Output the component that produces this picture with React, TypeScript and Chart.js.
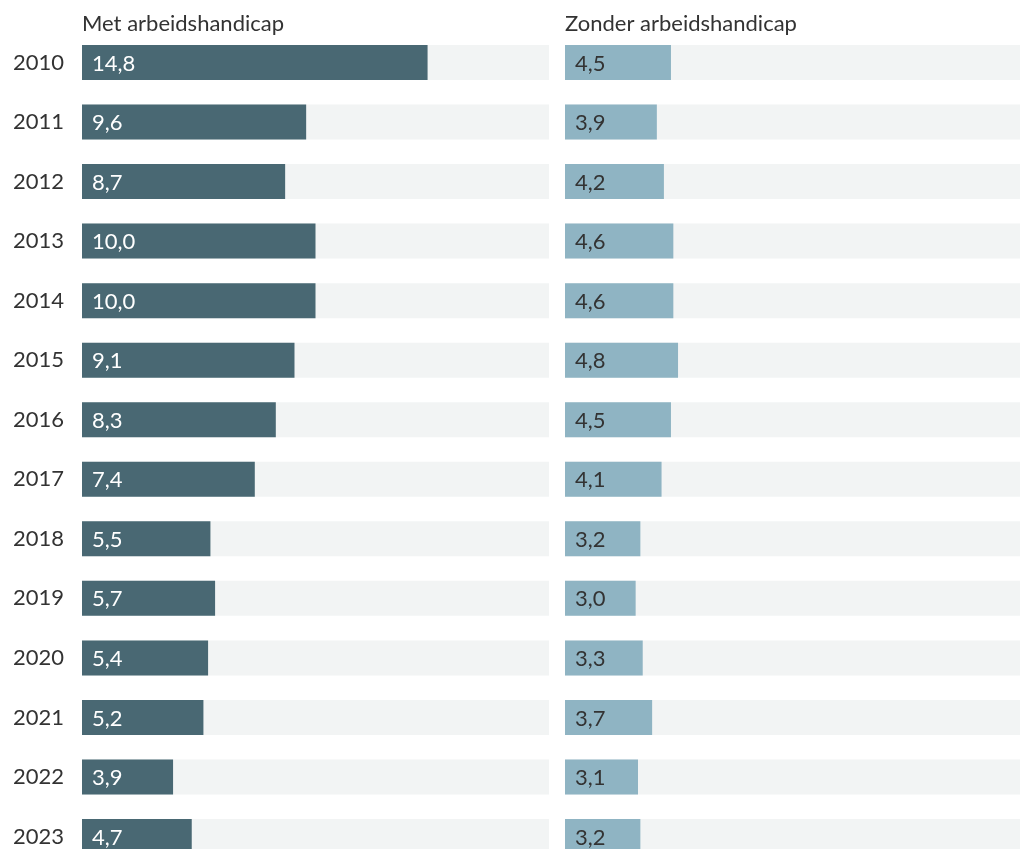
import React, { useEffect, useRef } from "react";
import { Chart, registerables } from "chart.js";

Chart.register(...registerables);

const years = ["2010", "2011", "2012", "2013", "2014", "2015", "2016", "2017", "2018", "2019", "2020", "2021", "2022", "2023"];
const metArbeidshandicap = [14.8, 9.6, 8.7, 10.0, 10.0, 9.1, 8.3, 7.4, 5.5, 5.7, 5.4, 5.2, 3.9, 4.7];
const zonderArbeidshandicap = [4.5, 3.9, 4.2, 4.6, 4.6, 4.8, 4.5, 4.1, 3.2, 3.0, 3.3, 3.7, 3.1, 3.2];
const titles = ["Met arbeidshandicap", "Zonder arbeidshandicap"];
const axisMax = 20;

const FONT = "Lato, 'Open Sans', sans-serif";
const FONT_SIZE = 22;
const TEXT = "#333333";

function fmt(v: number) {
  return v.toFixed(1).replace(".", ",");
}

function makeChart(
  canvas: HTMLCanvasElement,
  values: number[],
  title: string,
  barColor: string,
  labelColor: string,
  showYears: boolean
) {
  const overlay = {
    id: "overlay",
    afterDatasetsDraw(chart: any) {
      const ctx = chart.ctx;
      const meta = chart.getDatasetMeta(1);
      ctx.save();
      ctx.font = `${FONT_SIZE}px ${FONT}`;
      ctx.fillStyle = labelColor;
      ctx.textAlign = "left";
      ctx.textBaseline = "middle";
      meta.data.forEach((el: any, i: number) => {
        ctx.fillText(fmt(values[i]), el.base + 10, el.y + 1);
      });
      ctx.restore();
    },
    afterDraw(chart: any) {
      const ctx = chart.ctx;
      ctx.save();
      ctx.font = `${FONT_SIZE}px ${FONT}`;
      ctx.fillStyle = TEXT;
      ctx.textAlign = "left";
      ctx.textBaseline = "middle";
      ctx.fillText(title, chart.chartArea.left, 24);
      ctx.restore();
    },
  };

  return new Chart(canvas, {
    type: "bar",
    data: {
      labels: years,
      datasets: [
        {
          data: years.map(() => axisMax),
          backgroundColor: "#f2f4f4",
          order: 2,
          grouped: false,
        } as any,
        {
          data: values,
          backgroundColor: barColor,
          order: 1,
          grouped: false,
        } as any,
      ],
    },
    options: {
      indexAxis: "y",
      animation: false,
      responsive: false,
      maintainAspectRatio: false,
      datasets: { bar: { categoryPercentage: 1, barPercentage: 0.588 } },
      layout: { padding: { top: 32.7, bottom: 13.7, left: 0, right: 0 } },
      plugins: { legend: { display: false }, tooltip: { enabled: false }, title: { display: false } },
      scales: {
        x: { display: false, min: 0, max: axisMax },
        y: {
          display: showYears,
          offset: true,
          border: { display: false },
          grid: { display: false, drawTicks: false },
          ticks: {
            padding: 18,
            color: TEXT,
            font: { family: FONT, size: FONT_SIZE },
          },
          afterFit: (scale: any) => {
            if (showYears) {
              scale.width = 82;
              scale.paddingTop = 0;
              scale.paddingBottom = 0;
            }
          },
        },
      },
    } as any,
    plugins: [overlay],
  });
}

export default function App() {
  const leftRef = useRef<HTMLCanvasElement>(null);
  const rightRef = useRef<HTMLCanvasElement>(null);

  useEffect(() => {
    const a = makeChart(leftRef.current!, metArbeidshandicap, titles[0], "#496873", "#ffffff", true);
    const b = makeChart(rightRef.current!, zonderArbeidshandicap, titles[1], "#8fb4c3", TEXT, false);
    return () => {
      a.destroy();
      b.destroy();
    };
  }, []);

  return (
    <div
      style={{
        position: "fixed",
        left: 0,
        top: 0,
        width: 1020,
        height: 849,
        overflow: "hidden",
        background: "#ffffff",
      }}
    >
      <canvas
        ref={leftRef}
        width={549}
        height={880}
        style={{ position: "absolute", left: 0, top: 0, width: 549, height: 880 }}
      />
      <canvas
        ref={rightRef}
        width={471}
        height={880}
        style={{ position: "absolute", left: 565, top: 0, width: 471, height: 880 }}
      />
    </div>
  );
}
